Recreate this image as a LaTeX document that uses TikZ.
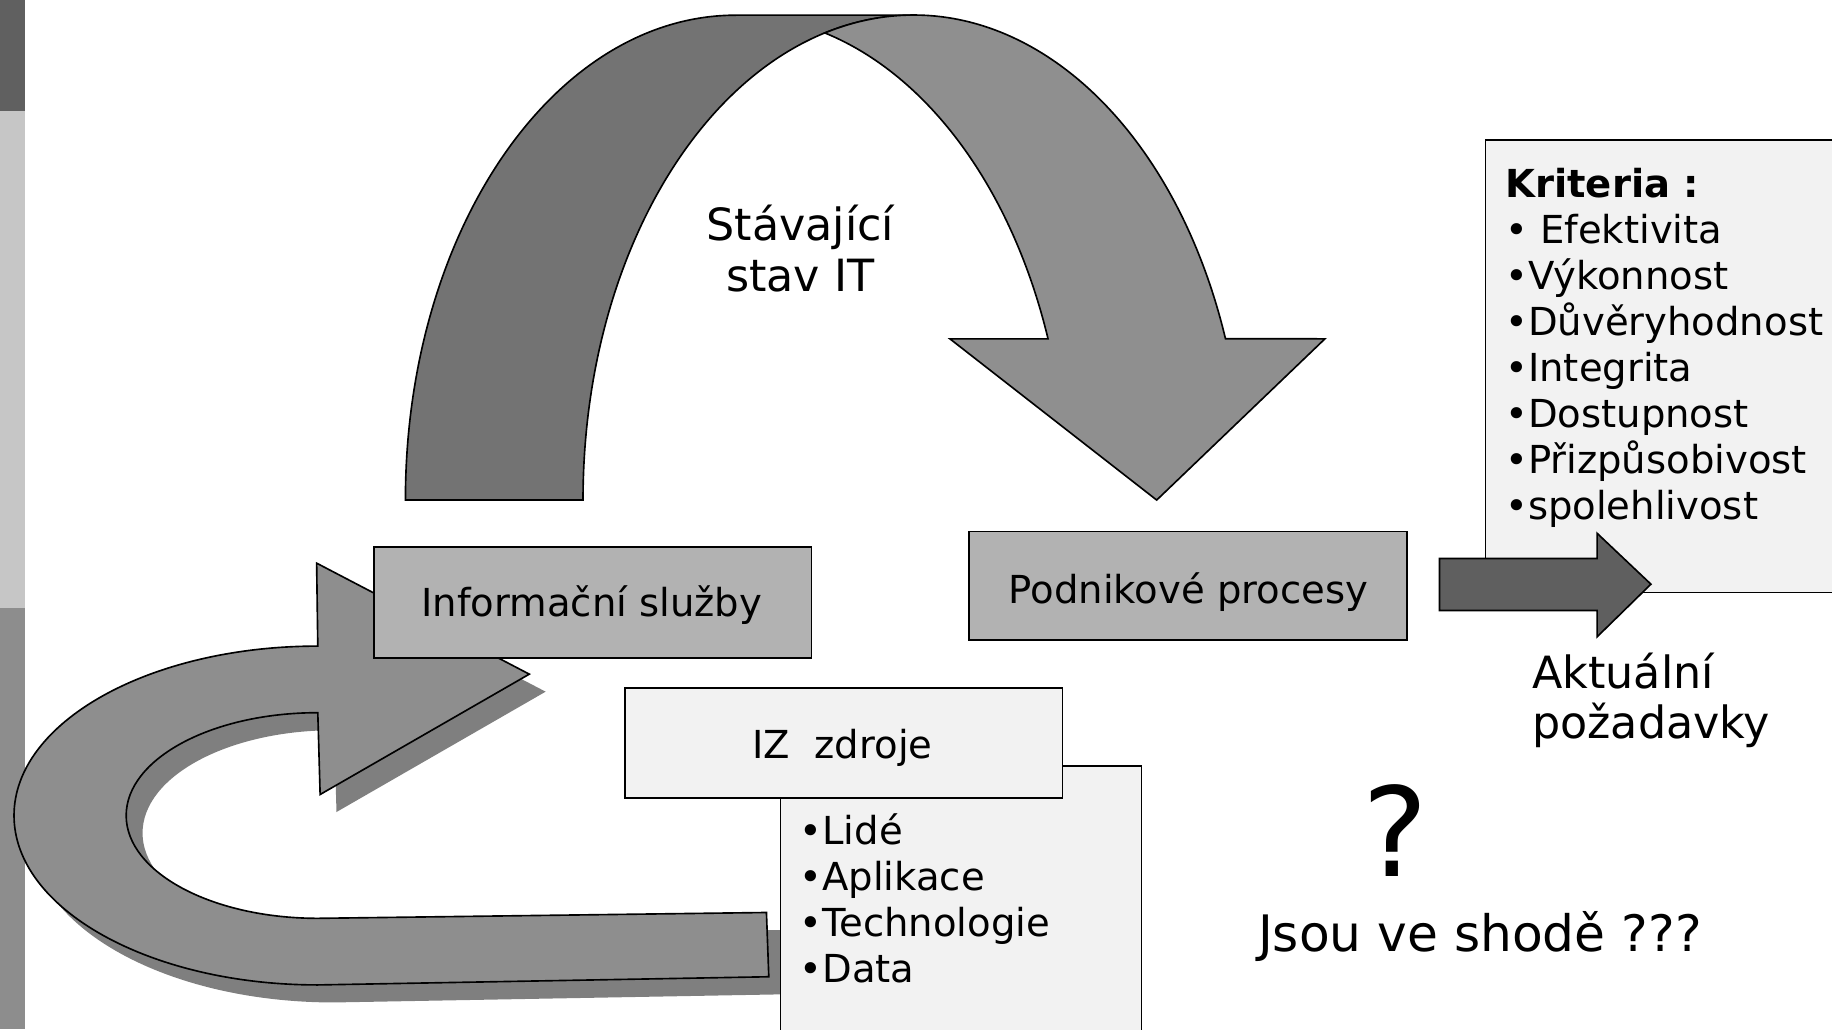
\documentclass[tikz,border=0pt]{standalone}
\usepackage{fontspec}
\setmainfont{DejaVu Sans}
\usepackage{xcolor}

\definecolor{stripdark}{RGB}{96,96,96}
\definecolor{striplight}{RGB}{198,198,198}
\definecolor{stripmid}{RGB}{141,141,141}
\definecolor{archdark}{RGB}{115,115,115}
\definecolor{archlight}{RGB}{143,143,143}
\definecolor{uturn}{RGB}{142,142,142}
\definecolor{uturnshadow}{RGB}{127,127,127}
\definecolor{boxmid}{RGB}{178,178,178}
\definecolor{boxpale}{RGB}{242,242,242}
\definecolor{arrowdark}{RGB}{95,95,95}

\begin{document}
\begin{tikzpicture}[x=0.5pt,y=0.5pt,yscale=-1,xscale=1,
  outline/.style={draw=black,line width=0.7pt},
  txt/.style={inner sep=0pt,text=black}]
\useasboundingbox (0,0) rectangle (1568,881);

%Shape: side strip
\fill [stripdark] (0,0) rectangle (21,95);
\fill [striplight] (0,95) rectangle (21,520);
\fill [stripmid] (0,520) rectangle (21,881);

%Curved Arrow: back band (left leg)
\draw [outline,fill=archdark] (347,428) arc[start angle=180,end angle=270,x radius=283,y radius=415] -- (782,13) arc[start angle=270,end angle=180,x radius=283,y radius=415] -- cycle ;
%Curved Arrow: front band with head
\draw [outline,fill=archlight] (706,28.2) arc[start angle=254.42,end angle=340.58,x radius=283,y radius=415] -- (1134,290) -- (990,428) -- (813,290) -- (897,290) arc[start angle=340.58,end angle=285.58,x radius=283,y radius=415] -- cycle ;

%U-turn Arrow: shadow
\fill [uturnshadow,shift={(14,15)}] (656,781) -- (272,786) arc[start angle=90,end angle=270,x radius=164,y radius=88] -- (274,680) -- (453,577) -- (271,482) -- (272,553) arc[start angle=270,end angle=90,x radius=260,y radius=145] -- (658,836) -- cycle ;
%U-turn Arrow
\draw [outline,fill=uturn] (656,781) -- (272,786) arc[start angle=90,end angle=270,x radius=164,y radius=88] -- (274,680) -- (453,577) -- (271,482) -- (272,553) arc[start angle=270,end angle=90,x radius=260,y radius=145] -- (658,836) -- cycle ;

%Shape: Rectangle (list of resources)
\draw [outline,fill=boxpale] (668,655.6) rectangle (977,895) ;
%Shape: Rectangle (IZ zdroje)
\draw [outline,fill=boxpale] (535,589) rectangle (909.5,683) ;
%Shape: Rectangle (Informacni sluzby)
\draw [outline,fill=boxmid] (320,468) rectangle (694.7,563) ;
%Shape: Rectangle (Podnikove procesy)
\draw [outline,fill=boxmid] (829.6,455) rectangle (1204,548) ;
%Shape: Rectangle (criteria)
\draw [outline,fill=boxpale] (1271.5,120) rectangle (1590,507) ;

%Right Arrow
\draw [outline,fill=arrowdark] (1232,478) -- (1367,478) -- (1367,456.5) -- (1413,500) -- (1367,545) -- (1367,522.5) -- (1232,522.5) -- cycle ;

% Text Node
\draw (685,249.6) node (stav) [txt,anchor=base,align=center,font=\fontsize{19}{22}\selectfont] {Stávající\\stav IT};
% Text Node
\draw (506.5,527.8) node (infosl) [txt,anchor=base,font=\fontsize{16.5}{19.7}\selectfont] {Informační služby};
% Text Node
\draw (1017,516.4) node (podproc) [txt,anchor=base,font=\fontsize{16.5}{19.7}\selectfont] {Podnikové procesy};
% Text Node
\draw (721,649) node (izzdroje) [txt,anchor=base,font=\fontsize{16.5}{19.7}\selectfont] {IZ\ \ zdroje};
% Text Node
\draw (684,841) node (zdrojlist) [txt,anchor=base west,align=left,font=\fontsize{16.5}{19.7}\selectfont] {•Lidé\\•Aplikace\\•Technologie\\•Data};
% Text Node
\draw (1288,445) node (kriteria) [txt,anchor=base west,align=left,font=\fontsize{16.5}{19.7}\selectfont] {\textbf{Kriteria :}\\• Efektivita\\•Výkonnost\\•Důvěryhodnost\\•Integrita\\•Dostupnost\\•Přizpůsobivost\\•spolehlivost};
% Text Node
\draw (1311,632) node (aktual) [txt,anchor=base west,align=left,font=\fontsize{19}{21.5}\selectfont] {Aktuální\\požadavky};
% Text Node
\draw (1194.6,750) node (otaznik) [txt,anchor=base,font=\fontsize{53}{60}\selectfont] {?};
% Text Node
\draw (1266.6,814.5) node (shoda) [txt,anchor=base,font=\fontsize{21.5}{25}\selectfont] {Jsou ve shodě ???};

\end{tikzpicture}
\end{document}
